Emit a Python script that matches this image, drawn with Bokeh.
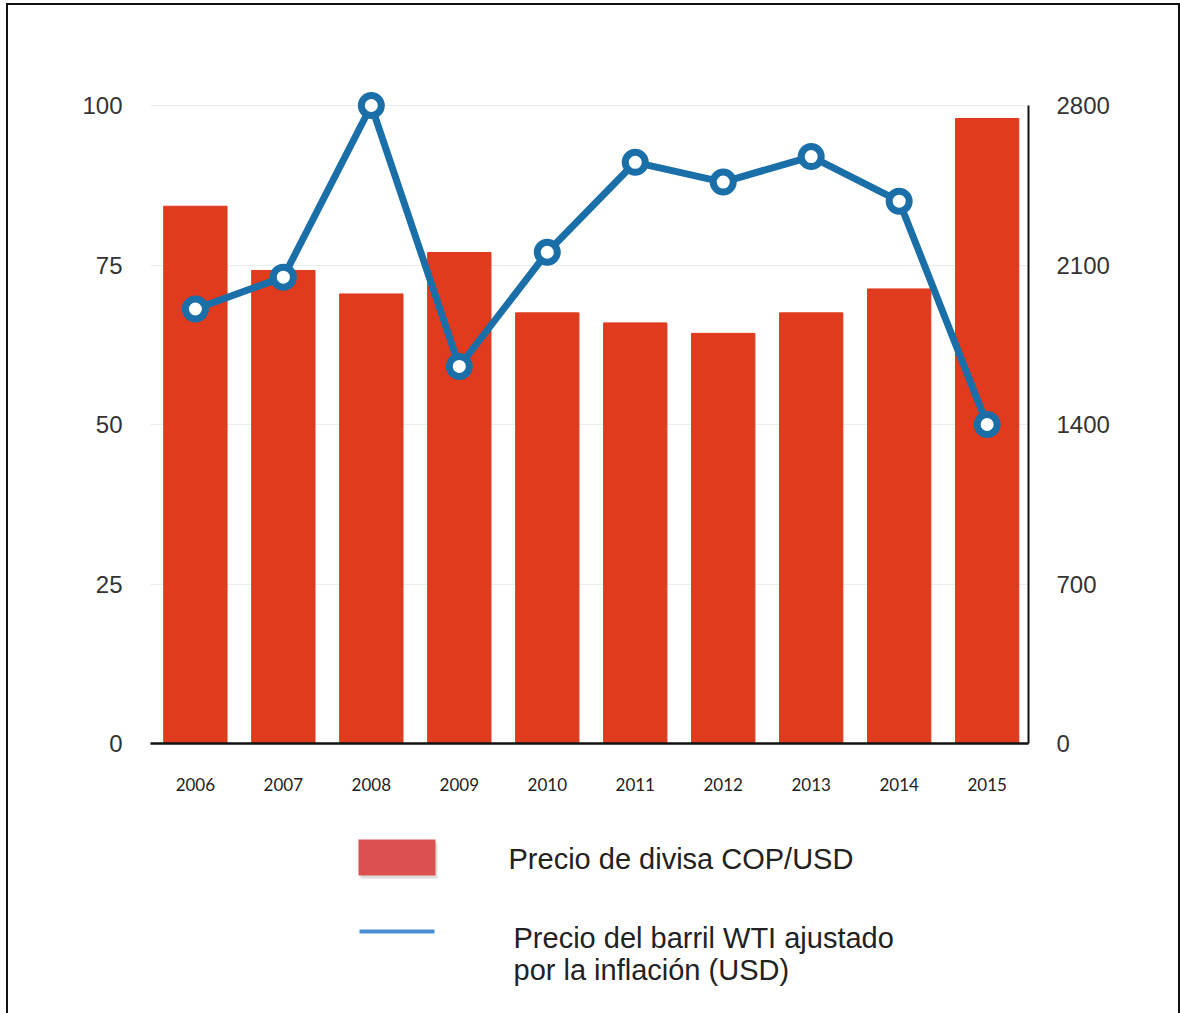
from bokeh.plotting import figure
from bokeh.models import Range1d, LinearAxis, FixedTicker, ColumnDataSource
from bokeh.core.properties import value
from bokeh.layouts import column
from bokeh.embed import file_html
from bokeh.resources import INLINE

# ---- data ----
years = [2006, 2007, 2008, 2009, 2010, 2011, 2012, 2013, 2014, 2015]
cop_usd = [2358, 2076, 1973, 2155, 1890, 1846, 1800, 1890, 1995, 2743]   # bars, right axis
wti_real = [68.1, 73.1, 100.0, 59.1, 77.0, 91.1, 88.0, 92.0, 85.0, 50.0]  # line, left axis
left_ticks = [0, 25, 50, 75, 100]
right_ticks = [0, 700, 1400, 2100, 2800]
legend_bar = "Precio de divisa COP/USD"
legend_line = ["Precio del barril WTI ajustado", "por la inflación (USD)"]

BAR = "#e03a1f"
LINE = "#1b6fa8"
W = 1170
YTOP = 103.92

src_bar = ColumnDataSource(dict(x=years, top=cop_usd))
src_line = ColumnDataSource(dict(x=years, y=wti_real))

p = figure(width=W, height=808, output_backend="svg", toolbar_location=None,
           x_range=Range1d(2005.49, 2015.47), y_range=Range1d(0, YTOP),
           min_border_left=142, min_border_right=150, min_border_top=75,
           min_border_bottom=70, x_axis_location=None, y_axis_location=None)
p.extra_y_ranges = {"cop": Range1d(0, YTOP * 28)}
p.outline_line_color = None
p.background_fill_color = "white"
p.border_fill_color = "white"

# bars (right axis)
p.vbar(x="x", top="top", width=0.72, source=src_bar, color=BAR, y_range_name="cop")
# line (left axis)
p.line(x="x", y="y", source=src_line, line_color=LINE, line_width=7)
p.scatter(x="x", y="y", source=src_line, size=20, fill_color="white",
          line_color=LINE, line_width=7)

tick_font = "Liberation Sans"
yl = LinearAxis(ticker=FixedTicker(ticks=left_ticks))
yl.axis_line_color = None
yl.major_tick_line_color = None
yl.minor_tick_line_color = None
yl.major_label_standoff = 22
yl.major_label_text_font = tick_font
yl.major_label_text_font_size = "24px"
yl.major_label_text_color = "#333333"
p.add_layout(yl, "left")

yr = LinearAxis(y_range_name="cop", ticker=FixedTicker(ticks=right_ticks), bounds=(0, 2800))
yr.axis_line_color = "#111111"
yr.axis_line_width = 2
yr.major_tick_line_color = None
yr.minor_tick_line_color = None
yr.major_label_standoff = 22
yr.major_label_text_font = tick_font
yr.major_label_text_font_size = "24px"
yr.major_label_text_color = "#333333"
p.add_layout(yr, "right")

xb = LinearAxis(ticker=FixedTicker(ticks=years))
xb.axis_line_color = "#111111"
xb.axis_line_width = 2.5
xb.major_tick_line_color = None
xb.minor_tick_line_color = None
xb.major_label_standoff = 28
xb.major_label_text_font = "Lato"
xb.major_label_text_font_size = "17px"
xb.major_label_text_color = "#222222"
p.add_layout(xb, "below")

p.ygrid.ticker = FixedTicker(ticks=left_ticks)
p.ygrid.grid_line_color = "#ececec"
p.ygrid.grid_line_width = 1
p.xgrid.grid_line_color = None

# ---- legend figure (its frame is aligned with the chart frame; page-pixel coordinates) ----
leg = figure(width=W, height=200, output_backend="svg", toolbar_location=None,
             x_range=Range1d(150, 1028), y_range=Range1d(1013, 813), min_border=0,
             x_axis_location=None, y_axis_location=None)
leg.grid.visible = False
leg.outline_line_color = None
leg.background_fill_color = "white"
leg.border_fill_color = "white"

leg.quad(left=[360], right=[437], top=[842], bottom=[878], fill_color="#9a9a9a",
         fill_alpha=0.35, line_color=None)
leg.quad(left=[358], right=[435], top=[839], bottom=[875], fill_color="#dd5050",
         line_color=None)
leg.segment(x0=[359], y0=[931], x1=[434], y1=[931], line_color="#4a8fd6", line_width=4)
leg.text(x=[508], y=[858], text=[legend_bar], text_font=value("Liberation Sans"),
         text_font_size="29px", text_color="#222222", text_baseline="middle")
leg.text(x=[513, 513], y=[937, 969], text=legend_line, text_font=value("Liberation Sans"),
         text_font_size="29px", text_color="#222222", text_baseline="middle")

root = column(p, leg, spacing=0,
              styles={"margin-left": "6px", "margin-top": "3px",
                      "border-top": "2px solid #111111",
                      "border-left": "2px solid #111111",
                      "border-right": "2px solid #111111"})

open("out.html", "w").write(file_html(root, INLINE))
